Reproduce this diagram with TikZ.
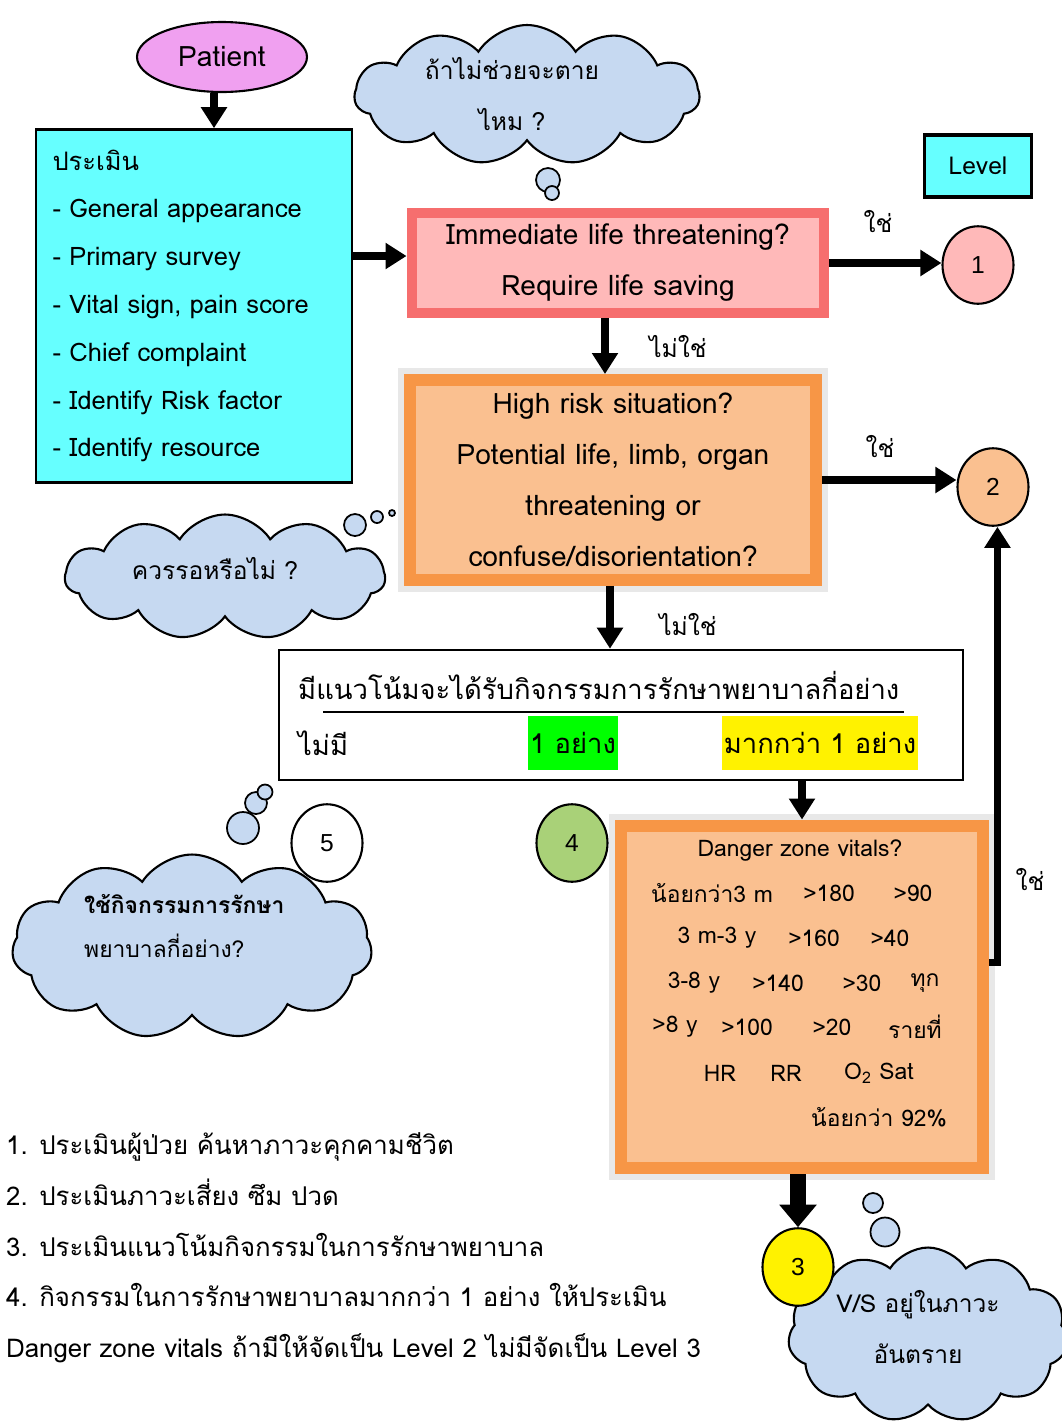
\documentclass[tikz,border=0pt]{standalone}
\usepackage{fontspec}
\setmainfont[Script=Thai]{Loma}
\newfontfamily\numfont{Liberation Sans}
\usetikzlibrary{positioning, shapes.geometric, shapes.symbols, arrows.meta, calc}

\definecolor{patient}{RGB}{240,160,240}
\definecolor{assess}{RGB}{102,255,255}
\definecolor{thought}{RGB}{198,217,241}
\definecolor{rededge}{RGB}{246,110,110}
\definecolor{redfill}{RGB}{255,185,185}
\definecolor{orangeedge}{RGB}{247,150,70}
\definecolor{orangefill}{RGB}{250,192,144}
\definecolor{levelfour}{RGB}{169,209,120}
\definecolor{greyframe}{RGB}{232,232,232}

\begin{document}
\begin{tikzpicture}[x=0.02cm, y=-0.02cm,
		every node/.style={font=\fontsize{14}{29}\selectfont},
		bubble/.style={cloud, cloud puffs=11, cloud puff arc=115, cloud ignores aspect, draw, line width=1.2pt, fill=thought},
		puff/.style={circle, draw, line width=1pt, fill=thought, inner sep=0pt, minimum size=#1},
		lvl/.style={ellipse, draw, line width=1.2pt, minimum width=1.42cm, minimum height=1.55cm, font=\numfont\fontsize{14}{16}\selectfont},
		redbox/.style={draw=rededge, fill=redfill, line width=0.2cm, align=center, font=\fontsize{16}{29}\selectfont},
		orangebox/.style={draw=orangeedge, fill=orangefill, line width=0.24cm, align=center, font=\fontsize{16}{29}\selectfont, preaction={draw=greyframe, line width=0.48cm}},
		flowarrow/.style={line width=5pt, -{Triangle[length=0.42cm, width=0.5cm]}},
		bigflow/.style={line width=9pt, -{Triangle[length=0.45cm, width=0.72cm]}},
		big/.style={font=\fontsize{15.6}{29}\selectfont},
		notes/.style={font=\fontsize{14.7}{29}\selectfont}
		]
		\useasboundingbox (0,0) rectangle (1062,1421);
		
		% clouds first, the circles sit on them
		\node[bubble, minimum width=6.9cm, minimum height=2.8cm, align=center] (c1) at (527,95) {};
		\node[align=center] (t1) at (512,94) {ถ้าไม่ช่วยจะตาย\\ไหม ?};
		\node[puff=0.48cm] (c1a) at (548,180) {};
		\node[puff=0.28cm] (c1b) at (552,193) {};
		\node[bubble, minimum width=6.4cm, minimum height=2.5cm] (c2) at (225,577) {};
		\node (t2) at (215,569) {ควรรอหรือไม่ ?};
		\node[puff=0.44cm] (c2a) at (355,525) {};
		\node[puff=0.24cm] (c2b) at (377,517) {};
		\node[puff=0.12cm] (c2c) at (392,513) {};
		\node[bubble, minimum width=7.2cm, minimum height=3.7cm] (c3) at (192,947) {};
		\node[anchor=west, align=left, font=\fontsize{13}{25.5}\selectfont] (t5) at (78,926) {\textbf{ใช้กิจกรรมการรักษา}\\พยาบาลกี่อย่าง?};
		\node[puff=0.64cm] (c3a) at (243,828) {};
		\node[puff=0.44cm] (c3b) at (256,803) {};
		\node[puff=0.3cm] (c3c) at (265,792) {};
		\node[bubble, minimum width=5.6cm, minimum height=3.5cm] (c4) at (928,1335) {};
		\node[align=center] (t4) at (918,1327) {V/S อยู่ในภาวะ\\อันตราย};
		\node[puff=0.4cm] (c4a) at (873,1203) {};
		\node[puff=0.58cm] (c4b) at (885,1232) {};
		
		% flow
		\node[ellipse, draw, line width=1.2pt, fill=patient, minimum width=3.4cm, minimum height=1.4cm, font=\fontsize{16}{18}\selectfont] (pt) at (222,57) {Patient};
		\node[draw, line width=1.5pt, fill=assess, minimum width=6.32cm, minimum height=7.06cm, text width=5.66cm, inner xsep=0.33cm, inner ysep=0.2cm, align=left, font=\fontsize{14.5}{27.2}\selectfont] (as) at (194,306) {ประเมิน\\- General appearance\\- Primary survey\\- Vital sign, pain score\\- Chief complaint\\- Identify Risk factor\\- Identify resource};
		\node[draw, line width=2pt, fill=assess, minimum width=2.14cm, minimum height=1.24cm] (lv) at (978,166) {Level};
		\node[redbox, minimum width=8.26cm, minimum height=2cm] (q1) at (618,263) {Immediate life threatening?\\Require life saving};
		\node[orangebox, minimum width=8.12cm, minimum height=4cm] (q2) at (613,480) {High risk situation?\\Potential life, limb, organ\\threatening or\\confuse/disorientation?};
		\node[draw, line width=1.5pt, minimum width=13.68cm, minimum height=2.6cm] (q3) at (621,715) {};
		\node[orangebox, minimum width=7.26cm, minimum height=6.86cm] (q4) at (802,997) {};
		
		\node[lvl, fill=redfill] (l1) at (978,265) {1};
		\node[lvl, fill=orangefill] (l2) at (993,487) {2};
		\node[lvl, fill=yellow] (l3) at (798,1267) {3};
		\node[lvl, fill=levelfour] (l4) at (572,843) {4};
		\node[lvl, fill=white] (l5) at (327,843) {5};
		
		% inside the white box
		\node[big, anchor=west] (t3) at (292,685) {มีแนวโน้มจะได้รับกิจกรรมการรักษาพยาบาลกี่อย่าง};
		\draw[line width=1.5pt] (323,712) -- (904,712);
		\node[big, anchor=west] (n0) at (292,743) {ไม่มี};
		\node[big, fill=green, minimum height=1.08cm, inner sep=1pt] (n1) at (573,743) {1 อย่าง};
		\node[big, fill=yellow, minimum height=1.08cm, inner sep=1pt] (n2) at (820,743) {มากกว่า 1 อย่าง};
		
		% inside the danger box
		\foreach \x/\y/\t [count=\k] in {800/850/Danger zone vitals?, 712/893/น้อยกว่า3 m, 829/893/>180, 913/893/>90,
				717/938/3 m-3 y, 814/938/>160, 890/938/>40, 694/983/3-8 y, 778/983/>140, 862/983/>30, 925/983/ทุก,
				675/1027/>8 y, 747/1027/>100, 832/1027/>20, 915/1027/รายที่, 720/1073/HR, 786/1073/RR,
				879/1073/O\textsubscript{2} Sat, 879/1117/น้อยกว่า 92\%}
			\node[font=\fontsize{13}{15}\selectfont] (v\k) at (\x,\y) {\t};
		
		% arrows
		\draw[flowarrow] ([xshift=-0.16cm]pt.south) -- ([xshift=-0.16cm]pt.south |- as.north);
		\draw[flowarrow] (as.east |- 0,256) -- (q1.west |- 0,256);
		\draw[flowarrow] (q1.east) -- (q1.east -| l1.west);
		\draw[flowarrow] ([xshift=-0.26cm]q1.south) -- ([xshift=-0.26cm]q1.south |- q2.north);
		\draw[flowarrow] (q2.east) -- (q2.east -| l2.west);
		\draw[flowarrow] ([xshift=-0.06cm]q2.south) -- ([xshift=-0.06cm]q2.south |- q3.north);
		\draw[flowarrow] (q4.north |- q3.south) -- (q4.north);
		\draw[bigflow] (q4.south -| l3) -- (l3);
		\draw[line width=4pt, -{Triangle[length=0.42cm, width=0.5cm]}] ([yshift=0.7cm]q4.east) -- ++(8,0) coordinate (bk) -- (bk |- l2.south);
		
		\node (y1) at (878,222) {ใช่};
		\node (y2) at (880,447) {ใช่};
		\node (y3) at (1030,880) {ใช่};
		\node (n3) at (678,347) {ไม่ใช่};
		\node (n4) at (688,625) {ไม่ใช่};
		
		\node[notes, anchor=north west, align=left] (nt) at (0,1126) {1. ประเมินผู้ป่วย ค้นหาภาวะคุกคามชีวิต\\2. ประเมินภาวะเสี่ยง ซึม ปวด\\3. ประเมินแนวโน้มกิจกรรมในการรักษาพยาบาล\\4. กิจกรรมในการรักษาพยาบาลมากกว่า 1 อย่าง ให้ประเมิน\\Danger zone vitals ถ้ามีให้จัดเป็น Level 2 ไม่มีจัดเป็น Level 3};
		
	\end{tikzpicture}
\end{document}
